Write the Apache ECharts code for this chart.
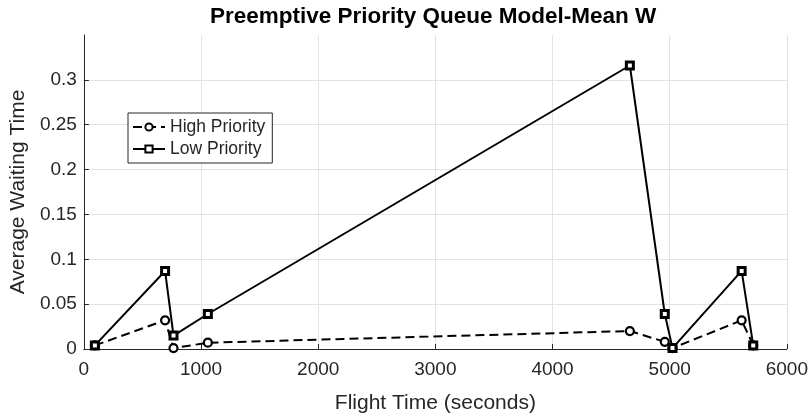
<!DOCTYPE html>
<html>
<head>
<meta charset="utf-8">
<script src="https://cdn.jsdelivr.net/npm/echarts@6/dist/echarts.min.js"></script>
<style>
html,body{margin:0;padding:0;background:#fff;}
#chart{width:811px;height:419px;}
</style>
</head>
<body>
<div id="chart"></div>
<script>
// Data
var flightTime = [94, 693, 765, 1058, 4660, 4958, 5024, 5614, 5713];
var highPriority = [0.004, 0.032, 0.001, 0.007, 0.020, 0.008, 0.001, 0.032, 0.004];
var lowPriority = [0.004, 0.087, 0.015, 0.039, 0.316, 0.039, 0.001, 0.087, 0.004];
var titleText = 'Preemptive Priority Queue Model-Mean W';
var xLabel = 'Flight Time (seconds)';
var yLabel = 'Average Waiting Time';
var seriesNames = ['High Priority', 'Low Priority'];

function pairs(xs, ys) { return xs.map(function (x, i) { return [x, ys[i]]; }); }

var textColor = '#262626';
var font = 'Liberation Sans, Arial, sans-serif';
var chart = echarts.init(document.getElementById('chart'), null, {renderer: 'canvas'});
chart.setOption({
  animation: false,
  backgroundColor: '#ffffff',
  title: {
    text: titleText, left: 205, top: 0,
    textStyle: {fontFamily: font, fontSize: 22.5, fontWeight: 'bold', color: '#000'}
  },
  grid: {left: 83, right: 22, top: 35, bottom: 69},
  legend: {
    orient: 'vertical', left: 128, top: 113,
    data: seriesNames,
    borderColor: textColor, borderWidth: 1, backgroundColor: '#fff',
    padding: [5, 7, 5, 4], itemGap: 4, itemWidth: 32, itemHeight: 9,
    textStyle: {fontFamily: font, fontSize: 17.5, color: textColor}
  },
  xAxis: {
    type: 'value', min: 0, max: 6000, interval: 1000,
    name: xLabel, nameLocation: 'middle', nameGap: 44,
    nameTextStyle: {fontFamily: font, fontSize: 21, color: textColor},
    axisLine: {show: true, lineStyle: {color: textColor, width: 1}},
    axisTick: {show: true, inside: true, length: 5, lineStyle: {color: textColor}},
    axisLabel: {fontFamily: font, fontSize: 19, color: textColor, margin: 11,
      formatter: function (v) { return String(v); }},
    splitLine: {show: true, lineStyle: {color: '#e3e3e3', width: 1}}
  },
  yAxis: {
    type: 'value', min: 0, max: 0.35, interval: 0.05,
    name: yLabel, nameLocation: 'middle', nameGap: 46,
    nameTextStyle: {fontFamily: font, fontSize: 21, color: textColor},
    axisLine: {show: true, lineStyle: {color: textColor, width: 1}},
    axisTick: {show: true, inside: true, length: 5, lineStyle: {color: textColor}},
    axisLabel: {fontFamily: font, fontSize: 19, color: textColor, margin: 7, showMaxLabel: false},
    splitLine: {show: true, showMaxLine: false, lineStyle: {color: '#e3e3e3', width: 1}}
  },
  series: [
    {
      name: seriesNames[0], type: 'line', data: pairs(flightTime, highPriority),
      symbol: 'circle', symbolSize: 8, showAllSymbol: true,
      lineStyle: {color: '#000', width: 2, type: [9, 5]},
      itemStyle: {color: '#fff', borderColor: '#000', borderWidth: 2.2}
    },
    {
      name: seriesNames[1], type: 'line', data: pairs(flightTime, lowPriority),
      symbol: 'rect', symbolSize: 7, showAllSymbol: true,
      lineStyle: {color: '#000', width: 2},
      itemStyle: {color: '#fff', borderColor: '#000', borderWidth: 3}
    }
  ]
});
</script>
</body>
</html>
